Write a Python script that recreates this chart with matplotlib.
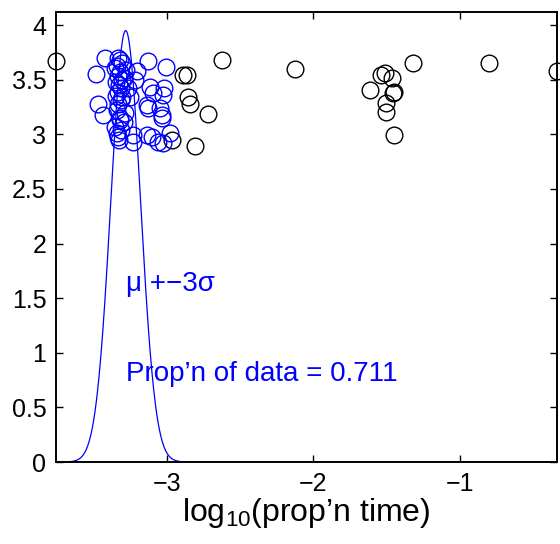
import numpy as np
import matplotlib
matplotlib.use("Agg")
import matplotlib.pyplot as plt

plt.rcParams['font.family'] = ['Liberation Sans', 'DejaVu Sans']
plt.rcParams['mathtext.fontset'] = 'custom'
plt.rcParams['mathtext.rm'] = 'Liberation Sans'
plt.rcParams['mathtext.it'] = 'Liberation Sans'

# points within mu +- 3 sigma (blue)
in_x = [-3.483, -3.422, -3.333, -3.320, -3.306, -3.340, -3.354, -3.320, -3.333, -3.306,
        -3.347, -3.327, -3.313, -3.293, -3.204, -3.218, -3.129, -3.007, -3.469, -3.435,
        -3.116, -3.095, -3.020, -3.027, -3.136, -3.129, -3.048, -3.034, -3.034, -3.286,
        -3.306, -3.252, -3.333, -3.313, -3.340, -3.320, -3.354, -3.340, -3.333, -3.313,
        -3.231, -3.231, -3.136, -3.102, -3.061, -3.027, -2.980, -3.293, -3.327, -3.320,
        -3.333, -3.347, -3.265, -3.279]
in_y = [3.551, 3.698, 3.698, 3.680, 3.652, 3.625, 3.606, 3.570, 3.533, 3.497,
        3.478, 3.451, 3.423, 3.515, 3.579, 3.497, 3.671, 3.616, 3.277, 3.176,
        3.432, 3.378, 3.423, 3.359, 3.268, 3.240, 3.240, 3.176, 3.149, 3.195,
        3.341, 3.341, 3.387, 3.314, 3.222, 3.130, 3.066, 3.011, 2.975, 3.039,
        2.993, 2.929, 2.993, 2.975, 2.929, 2.920, 3.011, 3.112, 2.947, 3.149,
        3.277, 3.350, 3.423, 3.588]

# points outside (black)
out_x = [-3.755, -2.891, -2.864, -2.857, -2.844, -2.721, -2.966, -2.810, -2.626, -2.129,
         -1.612, -1.537, -1.510, -1.463, -1.449, -1.456, -1.503, -1.503, -1.449, -1.320,
         -0.803, -0.340]
out_y = [3.670, 3.542, 3.542, 3.341, 3.277, 3.185, 2.947, 2.892, 3.680, 3.597,
         3.405, 3.542, 3.561, 3.515, 3.387, 3.377, 3.286, 3.204, 2.993, 3.652,
         3.652, 3.579]

mu = -3.28
sigma = 0.101
prop = 0.711

fig = plt.figure(figsize=(5.6, 5.44), dpi=100)
ax = fig.add_axes([0.1, 0.1507, 0.8946, 0.8273])

all_x = np.array(in_x + out_x)
xmin, xmax = all_x.min(), all_x.max()
xs = np.linspace(xmin, xmax, 800)
pdf = np.exp(-0.5 * ((xs - mu) / sigma) ** 2) / (sigma * np.sqrt(2 * np.pi))

ax.plot(out_x, out_y, 'o', mfc='none', mec='black', ms=12, mew=1.0, clip_on=False)
ax.plot(in_x, in_y, 'o', mfc='none', mec='blue', ms=12, mew=1.0, clip_on=False)
ax.plot(xs, pdf, color='blue', lw=0.9)

ax.text(mu, 1.57, 'μ +−3σ', color='blue', fontsize=20, va='baseline', ha='left')
ax.text(mu, 0.741, 'Prop’n of data = %.3f' % prop, color='blue', fontsize=20,
        va='baseline', ha='left')

ax.set_xlim(xmin, xmax)
ax.set_ylim(0, 4.12)
ax.set_xticks([-3, -2, -1])
ax.set_xticklabels(['−3', '−2', '−1'])
ax.set_yticks(np.arange(0, 4.01, 0.5))
ax.set_yticklabels(['0', '0.5', '1', '1.5', '2', '2.5', '3', '3.5', '4'])
ax.tick_params(direction='in', top=True, right=True, length=5, width=1.0,
               labelsize=18, pad=7)
for s in ax.spines.values():
    s.set_linewidth(1.4)
ax.set_xlabel('log$_{\\mathregular{10}}$(prop’n time)', fontsize=23, labelpad=0)

fig.savefig('out.png', dpi=100)
